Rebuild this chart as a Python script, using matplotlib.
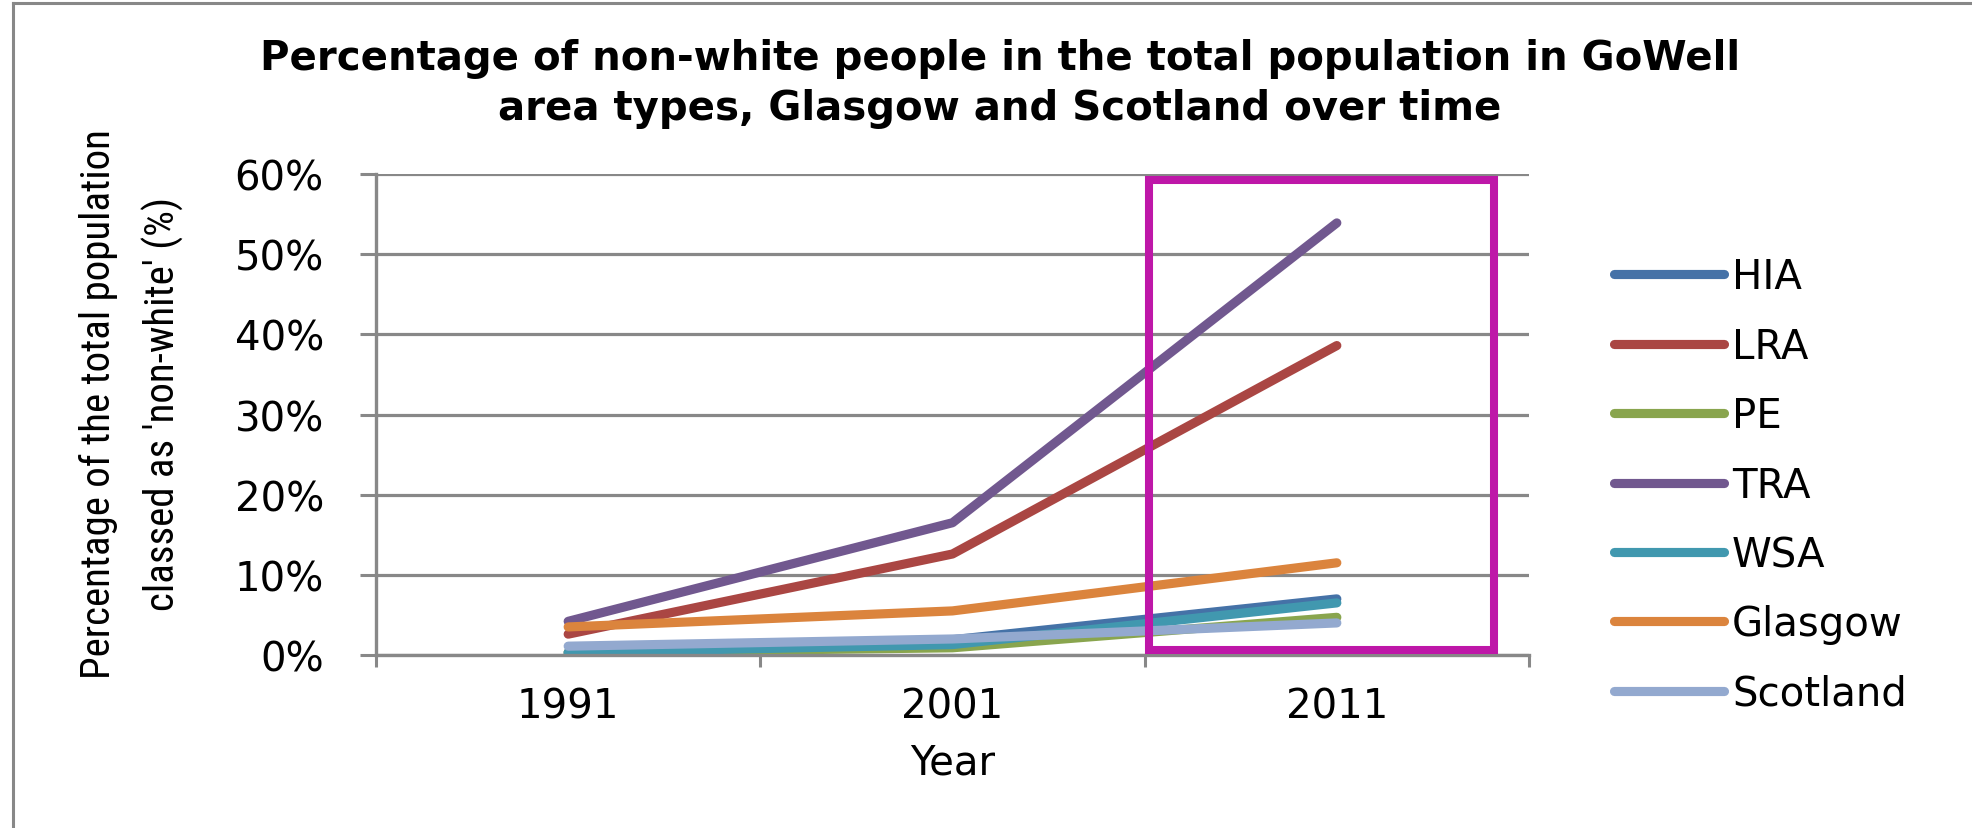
import matplotlib
matplotlib.use("Agg")
import matplotlib.pyplot as plt
from matplotlib.patches import Rectangle
from matplotlib.lines import Line2D
from matplotlib.ticker import FuncFormatter, FixedLocator
from matplotlib import font_manager
from matplotlib.font_manager import FontProperties

# Census years and share of non-white residents (%)
years = ["1991", "2001", "2011"]
series_names = ["HIA", "LRA", "PE", "TRA", "WSA", "Glasgow", "Scotland"]
hia = [0.3, 1.9, 7.0]
lra = [2.6, 12.6, 38.6]
pe = [0.3, 0.9, 4.7]
tra = [4.2, 16.5, 53.9]
wsa = [0.3, 1.3, 6.5]
glasgow = [3.5, 5.5, 11.5]
scotland = [1.1, 2.0, 4.0]
series_values = [hia, lra, pe, tra, wsa, glasgow, scotland]
series_colors = ["#4572A7", "#AA4643", "#89A54E", "#71588F", "#4198AF", "#DB843D", "#93A9CF"]
y_ticks = [0, 10, 20, 30, 40, 50, 60]

W, H = 1972, 829
fig = plt.figure(figsize=(W / 100, H / 100), dpi=100)
fig.patch.set_facecolor("white")

ax = fig.add_axes([376 / W, 1 - 656 / H, (1529 - 376) / W, (656 - 175) / H])
x_pos = [i + 0.5 for i in range(len(years))]

for name, vals, col in zip(series_names, series_values, series_colors):
    ax.plot(x_pos, vals, color=col, lw=6.6, solid_capstyle="round",
            solid_joinstyle="round", label=name)

ax.set_xlim(0, 3)
ax.set_ylim(0, 60)
ax.yaxis.set_major_locator(FixedLocator(y_ticks))
ax.yaxis.set_major_formatter(FuncFormatter(lambda v, p: f"{v:.0f}%"))
ax.set_xticks([0, 1, 2, 3])
ax.set_xticklabels([])
ax.set_xticks(x_pos, minor=True)
ax.set_xticklabels(years, minor=True)

grid_col = "#888888"
ax.grid(axis="y", color=grid_col, lw=2.3, zorder=0)
ax.set_axisbelow(True)
for s in ["top", "right"]:
    ax.spines[s].set_visible(False)
for s in ["left", "bottom"]:
    ax.spines[s].set_color(grid_col)
    ax.spines[s].set_linewidth(2.4)

ax.tick_params(axis="y", which="major", length=11.5, width=2.2, color=grid_col,
               labelsize=29, pad=26)
ax.tick_params(axis="x", which="major", length=8.6, width=2.2, color=grid_col)
ax.tick_params(axis="x", which="minor", length=0, labelsize=29, pad=23)

ax.set_xlabel("Year", fontsize=29, labelpad=11)

# highlight around the latest census
ax.add_patch(Rectangle((2.01, 0.6), 0.90, 58.6, fill=False, edgecolor="#BE17A8",
                       lw=5.8, zorder=10, clip_on=False))

leg = ax.legend(loc="upper left", bbox_to_anchor=(1.06, 0.86), frameon=False,
                fontsize=29, handlelength=2.72, handletextpad=0.2,
                labelspacing=0.73, borderaxespad=0)

fig.text(1000 / W, 1 - 84 / H,
         "Percentage of non-white people in the total population in GoWell\n"
         "area types, Glasgow and Scotland over time",
         ha="center", va="center", fontsize=29, fontweight="bold", linespacing=1.3)

# axis title in a condensed face when one is installed, sized to its printed length
def condensed_face():
    for name in ["Liberation Sans Narrow", "Roboto Condensed", "Open Sans Condensed",
                 "DejaVu Sans Condensed", "Noto Sans Condensed"]:
        for f in font_manager.fontManager.ttflist:
            if f.name == name and f.style == "normal" and f.weight in (400, "normal", "regular"):
                return FontProperties(fname=f.fname)
    for f in font_manager.fontManager.ttflist:
        if (str(f.stretch) in ("condensed", "semi-condensed")
                and f.style == "normal" and f.weight in (400, "normal", "regular")):
            return FontProperties(fname=f.fname)
    return FontProperties(family="DejaVu Sans")

ylab_fp = condensed_face()
ylab_lines = ["Percentage of the total population", "classed as 'non-white' (%)"]
renderer = fig.canvas.get_renderer()
probe_fp = ylab_fp.copy()
probe_fp.set_size(20)
probe = fig.text(0, 0, ylab_lines[0], fontproperties=probe_fp)
probe_w = probe.get_window_extent(renderer).width
probe.remove()
ylab_fp.set_size(20 * 548 / probe_w)

fig.text(98 / W, 1 - 404 / H, ylab_lines[0], ha="center", va="center",
         rotation=90, fontproperties=ylab_fp)
fig.text(163 / W, 1 - 404 / H, ylab_lines[1], ha="center", va="center",
         rotation=90, fontproperties=ylab_fp)

# outer chart frame (left and top edges)
fig.add_artist(Line2D([13 / W, 13 / W], [0, 1 - 4 / H], color=grid_col, lw=2.2))
fig.add_artist(Line2D([13 / W, 1], [1 - 4 / H, 1 - 4 / H], color=grid_col, lw=2.2))

fig.savefig("out.png", dpi=100, facecolor="white")
